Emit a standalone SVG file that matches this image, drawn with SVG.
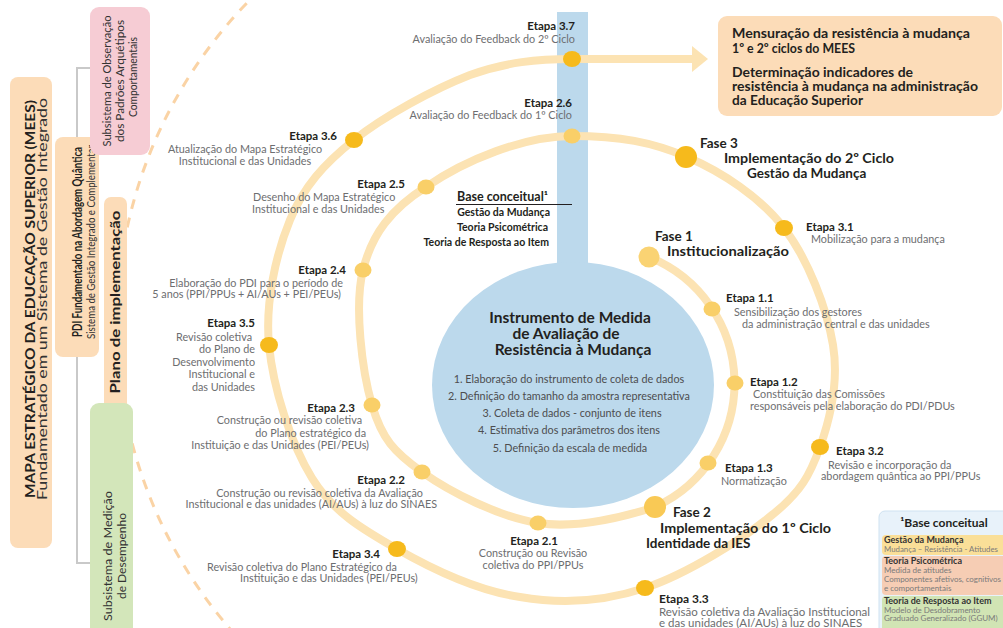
<svg xmlns="http://www.w3.org/2000/svg" width="1003" height="628" viewBox="0 0 1003 628">
<style>
text{font-family:Lato,"Open Sans","Liberation Sans",sans-serif}
.et{font-weight:bold;font-size:11.5px;fill:#231f20}
.ds{font-size:10.8px;fill:#6d6e70}
.fs{font-weight:bold;font-size:13.5px;fill:#231f20}
.bx{font-weight:bold;font-size:13px;fill:#231f20}
.ct{font-weight:bold;font-size:15.5px;fill:#231f20}
.it{font-size:10.8px;fill:#4d4d4f}
.bc{font-weight:bold;font-size:10.5px;fill:#231f20}
.lv{font-weight:bold;font-size:13.5px;fill:#231f20}
.lr{font-size:12.5px;fill:#333}
.sb{font-size:12px;fill:#333}
.lg{font-weight:bold;font-size:9px;fill:#333}
.lgr{font-size:8px;fill:#7a7a7a}
.ring{fill:none;stroke:#FCE3B3;stroke-width:8}
.di{fill:#F9CF68}
.do{fill:#F6BA1C}
.gray{fill:none;stroke:#C9C9C9;stroke-width:2}
.peach{fill:#FCDCB8}
</style>
<defs>
<marker id="arrow" markerUnits="userSpaceOnUse" viewBox="0 0 10 10" refX="0" refY="5" markerWidth="16" markerHeight="26" orient="auto" preserveAspectRatio="none">
<path d="M0,0 L10,5 L0,10 z" fill="#FCE3B3"/>
</marker>
</defs>
<rect width="1003" height="628" fill="#fff"/>

<g id="decor">
<path d="M260,-10 A464,464 0 0 0 240,640" fill="none" stroke="#FAD3A5" stroke-width="3" stroke-dasharray="10 9"/>
</g>

<g id="tree-connectors">
<polyline class="gray" points="90,68 77,68 77,137"/>
<polyline class="gray" points="77,357 77,563 90,563"/>
</g>

<g id="mees">
<rect class="peach" x="10" y="77" width="42" height="471" rx="8"/>
<text class="lv" transform="translate(35,299) rotate(-90)" text-anchor="middle" textLength="398" lengthAdjust="spacingAndGlyphs">MAPA ESTRATÉGICO DA EDUCAÇÃO SUPERIOR (MEES)</text>
<text class="lr" transform="translate(47,299) rotate(-90)" text-anchor="middle" textLength="402" lengthAdjust="spacingAndGlyphs">Fundamentado em um Sistema de Gestão Integrado</text>
</g>
<g id="pdi">
<rect class="peach" x="55" y="137" width="44" height="220" rx="8"/>
<text class="lv" style="font-size:12.5px" transform="translate(81.5,242) rotate(-90)" text-anchor="middle" textLength="190" lengthAdjust="spacingAndGlyphs">PDI Fundamentado na Abordagem Quântica</text>
<text class="lr" style="font-size:12px" transform="translate(94.5,242) rotate(-90)" text-anchor="middle" textLength="194" lengthAdjust="spacingAndGlyphs">Sistema de Gestão Integrado e Complementar</text>
</g>
<g id="plano">
<rect class="peach" x="104" y="197" width="23" height="223" rx="7"/>
<text class="lv" style="font-size:12.5px" transform="translate(120,302) rotate(-90)" text-anchor="middle" textLength="183" lengthAdjust="spacingAndGlyphs">Plano de implementação</text>
</g>
<g id="subsistema-observacao">
<rect x="90" y="7" width="60" height="148" rx="9" fill="#F6CCD4"/>
<text class="sb" transform="translate(111,81) rotate(-90)" text-anchor="middle" textLength="131" lengthAdjust="spacingAndGlyphs">Subsistema de Observação</text>
<text class="sb" transform="translate(124,81) rotate(-90)" text-anchor="middle" textLength="122" lengthAdjust="spacingAndGlyphs">dos Padrões Arquétipos</text>
<text class="sb" transform="translate(137,77) rotate(-90)" text-anchor="middle" textLength="80" lengthAdjust="spacingAndGlyphs">Comportamentais</text>
</g>
<g id="subsistema-medicao">
<rect x="90" y="403" width="43" height="240" rx="9" fill="#D3E6BA"/>
<text class="sb" transform="translate(112,556) rotate(-90)" text-anchor="middle" textLength="130" lengthAdjust="spacingAndGlyphs">Subsistema de Medição</text>
<text class="sb" transform="translate(126,556) rotate(-90)" text-anchor="middle" textLength="86" lengthAdjust="spacingAndGlyphs">de Desempenho</text>
</g>

<g id="instrumento">
<rect x="557" y="12" width="31" height="262" fill="#BCD9EC"/>
<ellipse cx="573" cy="385" rx="141" ry="123" fill="#BCD9EC"/>
<text class="et" style="font-size:12.5px" x="457" y="201">Base conceitual¹</text>
<line x1="456" y1="204.5" x2="572" y2="204.5" stroke="#231f20" stroke-width="1.2"/>
<text class="bc" x="550" y="216" text-anchor="end">Gestão da Mudança</text>
<text class="bc" x="548" y="231" text-anchor="end">Teoria Psicométrica</text>
<text class="bc" x="549" y="246" text-anchor="end">Teoria de Resposta ao Item</text>
<text class="ct" x="570" y="323" text-anchor="middle">Instrumento de Medida</text>
<text class="ct" x="566" y="339" text-anchor="middle">de Avaliação de</text>
<text class="ct" x="573" y="355" text-anchor="middle">Resistência à Mudança</text>
<text class="it" x="569" y="383" text-anchor="middle">1. Elaboração do instrumento de coleta de dados</text>
<text class="it" x="569" y="400" text-anchor="middle">2. Definição do tamanho da amostra representativa</text>
<text class="it" x="572" y="417" text-anchor="middle">3. Coleta de dados - conjunto de itens</text>
<text class="it" x="569" y="434" text-anchor="middle">4. Estimativa dos parâmetros dos itens</text>
<text class="it" x="570" y="452" text-anchor="middle">5. Definição da escala de medida</text>
</g>

<g id="connectors">
<path class="ring" d="M649,257 A136,136 0 0 1 655,507"/>
<path class="ring" marker-end="url(#arrow)" d="M655,507 C627,516 577,529 538,523 C499,517 450,492 422,472 C394,452 382,439 372,405 C362,371 354,306 363,270 C372,234 391,209 426,187 C465,160 524,136 572,136 C620,136 652,142 687,157 C722,172 760,197 784,228 C808,259 827,309 833,345 C839,382 830,419 820,447 C810,475 801,492 772,515 C743,539 687,574 645,588 C603,602 561,604 520,597 C479,591 432,569 397,549 C362,529 333,512 312,478 C291,444 273,388 269,345 C265,302 276,254 290,220 C304,186 324,164 354,140 C384,116 434,89 470,75 C506,62 538,59 572,59 L692,59"/>
</g>

<g id="resultado">
<rect class="peach" x="718" y="16" width="284" height="100" rx="9"/>
<text class="bx" x="732" y="37.5" textLength="238" lengthAdjust="spacingAndGlyphs">Mensuração da resistência à mudança</text>
<text class="bx" x="732" y="53" textLength="123" lengthAdjust="spacingAndGlyphs">1º e 2º ciclos do MEES</text>
<text class="bx" x="732" y="76.5" textLength="181" lengthAdjust="spacingAndGlyphs">Determinação indicadores de</text>
<text class="bx" x="732" y="90.5" textLength="246" lengthAdjust="spacingAndGlyphs">resistência à mudança na administração</text>
<text class="bx" x="732" y="104.5" textLength="131" lengthAdjust="spacingAndGlyphs">da Educação Superior</text>
</g>

<g id="fase1">
<circle cx="649" cy="257" r="10.5" fill="#FAD373"/>
<text class="fs" x="655" y="241">Fase 1</text>
<text class="fs" x="667" y="256" textLength="122" lengthAdjust="spacingAndGlyphs">Institucionalização</text>
</g>
<g id="fase2">
<circle cx="655" cy="507" r="11" fill="#F9C955"/>
<text class="fs" x="673" y="517">Fase 2</text>
<text class="fs" x="660" y="533" textLength="171" lengthAdjust="spacingAndGlyphs">Implementação do 1º Ciclo</text>
<text class="fs" x="646" y="548">Identidade da IES</text>
</g>
<g id="fase3">
<circle cx="686" cy="157" r="11" class="do"/>
<text class="fs" x="700" y="148">Fase 3</text>
<text class="fs" x="724" y="163" textLength="170" lengthAdjust="spacingAndGlyphs">Implementação do 2º Ciclo</text>
<text class="fs" x="747" y="178">Gestão da Mudança</text>
</g>

<g id="etapa-1-1">
<ellipse class="di" cx="712" cy="309" rx="8.5" ry="7.5"/>
<text class="et" x="726" y="302">Etapa 1.1</text>
<text class="ds" x="734" y="316">Sensibilização dos  gestores</text>
<text class="ds" x="742" y="328">da administração central  e das unidades</text>
</g>
<g id="etapa-1-2">
<ellipse class="di" cx="735" cy="383" rx="8.5" ry="7.5"/>
<text class="et" x="750" y="386">Etapa 1.2</text>
<text class="ds" x="753" y="398">Constituição das Comissões</text>
<text class="ds" x="750" y="410">responsáveis pela elaboração do PDI/PDUs</text>
</g>
<g id="etapa-1-3">
<ellipse class="di" cx="708" cy="463" rx="8.5" ry="7.5"/>
<text class="et" x="725" y="472">Etapa 1.3</text>
<text class="ds" x="721" y="485">Normatização</text>
</g>
<g id="etapa-2-1">
<ellipse class="di" cx="538" cy="523" rx="8.5" ry="7.5"/>
<text class="et" x="534" y="545" text-anchor="middle">Etapa 2.1</text>
<text class="ds" x="533" y="557" text-anchor="middle">Construção ou Revisão</text>
<text class="ds" x="533" y="569" text-anchor="middle">coletiva do PPI/PPUs</text>
</g>
<g id="etapa-2-2">
<ellipse class="di" cx="422" cy="472" rx="8.5" ry="7.5"/>
<text class="et" x="405" y="484" text-anchor="end">Etapa 2.2</text>
<text class="ds" x="423" y="497" text-anchor="end">Construção ou revisão coletiva da Avaliação</text>
<text class="ds" x="437" y="508" text-anchor="end">Institucional e das unidades (AI/AUs) à luz do SINAES</text>
</g>
<g id="etapa-2-3">
<ellipse class="di" cx="372" cy="405" rx="8.5" ry="7.5"/>
<text class="et" x="355" y="412" text-anchor="end">Etapa 2.3</text>
<text class="ds" x="362" y="424" text-anchor="end">Construção ou revisão coletiva</text>
<text class="ds" x="366" y="437" text-anchor="end">do Plano estratégico da</text>
<text class="ds" x="369" y="449" text-anchor="end">Instituição e das Unidades (PEI/PEUs)</text>
</g>
<g id="etapa-2-4">
<ellipse class="di" cx="363" cy="270" rx="8.5" ry="7.5"/>
<text class="et" x="346" y="274" text-anchor="end">Etapa 2.4</text>
<text class="ds" x="343" y="287" text-anchor="end">Elaboração do PDI para o período de</text>
<text class="ds" x="341" y="298" text-anchor="end">5 anos (PPI/PPUs + AI/AUs + PEI/PEUs)</text>
</g>
<g id="etapa-2-5">
<ellipse class="di" cx="426" cy="187" rx="8.5" ry="7.5"/>
<text class="et" x="405" y="188" text-anchor="end">Etapa 2.5</text>
<text class="ds" x="253" y="201">Desenho do Mapa Estratégico</text>
<text class="ds" x="252" y="213">Institucional e das Unidades</text>
</g>
<g id="etapa-2-6">
<ellipse class="di" cx="572" cy="136" rx="8.5" ry="7.5"/>
<text class="et" x="572" y="107" text-anchor="end">Etapa 2.6</text>
<text class="ds" x="572" y="119" text-anchor="end">Avaliação do Feedback  do 1º Ciclo</text>
</g>
<g id="etapa-3-1">
<ellipse class="do" cx="784" cy="228" rx="9" ry="8"/>
<text class="et" x="806" y="231">Etapa 3.1</text>
<text class="ds" x="811" y="243">Mobilização para a mudança</text>
</g>
<g id="etapa-3-2">
<ellipse class="do" cx="820" cy="447" rx="9" ry="8"/>
<text class="et" x="836" y="455">Etapa 3.2</text>
<text class="ds" x="828" y="469">Revisão e incorporação da</text>
<text class="ds" x="821" y="480">abordagem quântica ao PPI/PPUs</text>
</g>
<g id="etapa-3-3">
<ellipse class="do" cx="645" cy="588" rx="9" ry="8"/>
<text class="et" style="font-size:12px" x="659" y="603">Etapa 3.3</text>
<text class="ds" style="font-size:11.5px" x="659" y="616">Revisão coletiva da Avaliação Institucional</text>
<text class="ds" style="font-size:11.5px" x="659" y="627">e das unidades (AI/AUs) à luz do SINAES</text>
</g>
<g id="etapa-3-4">
<ellipse class="do" cx="397" cy="549" rx="9" ry="8"/>
<text class="et" x="380" y="558" text-anchor="end">Etapa 3.4</text>
<text class="ds" x="207" y="571">Revisão coletiva do Plano Estratégico da</text>
<text class="ds" x="240" y="582">Instituição e das Unidades (PEI/PEUs)</text>
</g>
<g id="etapa-3-5">
<ellipse class="do" cx="269" cy="345" rx="9" ry="8"/>
<text class="et" x="255" y="327" text-anchor="end">Etapa 3.5</text>
<text class="ds" x="252" y="341" text-anchor="end">Revisão coletiva</text>
<text class="ds" x="255" y="353" text-anchor="end">do Plano de</text>
<text class="ds" x="255" y="366" text-anchor="end">Desenvolvimento</text>
<text class="ds" x="255" y="378" text-anchor="end">Institucional e</text>
<text class="ds" x="255" y="391" text-anchor="end">das Unidades</text>
</g>
<g id="etapa-3-6">
<ellipse class="do" cx="354" cy="140" rx="9" ry="8"/>
<text class="et" x="337" y="140" text-anchor="end">Etapa 3.6</text>
<text class="ds" x="245" y="153" text-anchor="middle">Atualização do  Mapa Estratégico</text>
<text class="ds" x="245" y="165" text-anchor="middle">Institucional e das Unidades</text>
</g>
<g id="etapa-3-7">
<ellipse class="do" cx="572" cy="59" rx="9" ry="8"/>
<text class="et" x="575" y="30" text-anchor="end">Etapa 3.7</text>
<text class="ds" x="575" y="43" text-anchor="end">Avaliação do Feedback do 2º Ciclo</text>
</g>

<g id="legenda">
<rect x="879" y="511" width="130" height="130" rx="6" fill="#E8F2FA" stroke="#CFE2F1"/>
<text class="et" style="font-size:12px" x="944" y="527" text-anchor="middle">¹Base conceitual</text>
<rect x="882" y="535" width="125" height="20" rx="4" fill="#FADF98"/>
<rect x="882" y="556" width="125" height="39" rx="4" fill="#F6CDB4"/>
<rect x="882" y="596" width="125" height="40" rx="4" fill="#D1E4B4"/>
<text class="lg" x="884" y="543">Gestão da Mudança</text>
<text class="lgr" x="884" y="551.5" textLength="114" lengthAdjust="spacingAndGlyphs">Mudança – Resistência - Atitudes</text>
<text class="lg" x="884" y="564">Teoria Psicométrica</text>
<text class="lgr" x="884" y="573">Medida de atitudes</text>
<text class="lgr" x="884" y="582" textLength="117" lengthAdjust="spacingAndGlyphs">Componentes afetivos, cognitivos</text>
<text class="lgr" x="884" y="591">e comportamentais</text>
<text class="lg" x="884" y="604">Teoria de Resposta ao Item</text>
<text class="lgr" x="884" y="612.5">Modelo de Desdobramento</text>
<text class="lgr" x="884" y="621">Graduado Generalizado (GGUM)</text>
</g>
</svg>
